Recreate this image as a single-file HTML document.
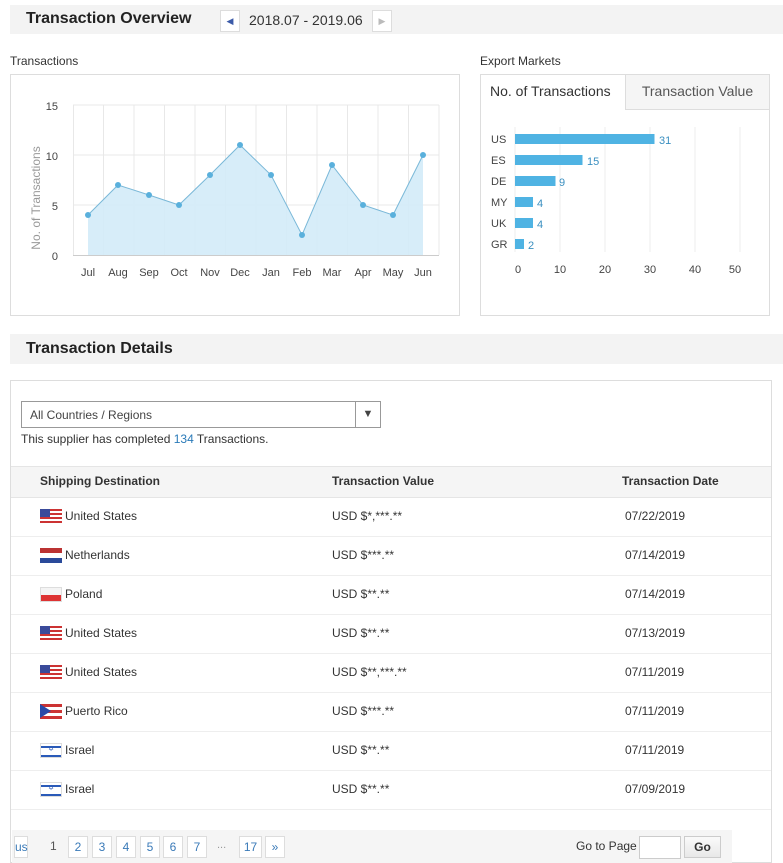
<!DOCTYPE html>
<html><head><meta charset="utf-8"><style>
*{box-sizing:border-box;margin:0;padding:0}
body{width:783px;height:863px;background:#fff;font-family:"Liberation Sans",Arial,sans-serif;color:#333;position:relative;overflow:hidden}
.abs{position:absolute}
.hdr{background:#f3f3f3;font-weight:bold;font-size:16px;color:#222}
.row{position:absolute;left:11px;width:760px;height:39px;border-bottom:1px solid #eee;font-size:12px;color:#333}
.row span{position:absolute;top:11px}
.pg{position:absolute;top:836px;height:22px;border:1px solid #ddd;background:#fff;font-size:12px;color:#3a7ab8;text-align:center;line-height:20px;width:20px}
</style></head><body>
<div class="abs hdr" style="left:10px;top:5px;width:773px;height:29px"><span class="abs" style="left:16px;top:5px">Transaction Overview</span></div>
<div class="abs" style="left:220px;top:10px;width:20px;height:22px;border:1px solid #ddd;background:#fff;color:#3b5aa8;font-size:9px;text-align:center;line-height:20px">◀</div>
<div class="abs" style="left:249px;top:12px;font-size:14px;color:#333">2018.07 - 2019.06</div>
<div class="abs" style="left:372px;top:10px;width:20px;height:22px;border:1px solid #ddd;background:#fff;color:#bbb;font-size:9px;text-align:center;line-height:20px">▶</div>
<div class="abs" style="left:10px;top:54px;font-size:12px;color:#333">Transactions</div>
<div class="abs" style="left:10px;top:74px;width:450px;height:242px;border:1px solid #ddd"></div>
<svg class="abs" style="left:0;top:0" width="470" height="320">
<g stroke="#e8e8e8" stroke-width="1">
<line x1="73" y1="105" x2="439" y2="105"/><line x1="73" y1="155" x2="439" y2="155"/><line x1="73" y1="205" x2="439" y2="205"/>
<line x1="73.5" y1="105" x2="73.5" y2="255"/><line x1="103.5" y1="105" x2="103.5" y2="255"/><line x1="134" y1="105" x2="134" y2="255"/><line x1="164.5" y1="105" x2="164.5" y2="255"/><line x1="195" y1="105" x2="195" y2="255"/><line x1="225.5" y1="105" x2="225.5" y2="255"/><line x1="256" y1="105" x2="256" y2="255"/><line x1="286.5" y1="105" x2="286.5" y2="255"/><line x1="317" y1="105" x2="317" y2="255"/><line x1="347.5" y1="105" x2="347.5" y2="255"/><line x1="378" y1="105" x2="378" y2="255"/><line x1="408.5" y1="105" x2="408.5" y2="255"/><line x1="439" y1="105" x2="439" y2="255"/>
</g>
<line x1="73" y1="255.5" x2="439" y2="255.5" stroke="#ccc"/>
<polygon points="88,255 88,215 118,185 149,195 179,205 210,175 240,145 271,175 302,235 332,165 363,205 393,215 423,155 423,255" fill="#d3ebf8" opacity="0.9"/>
<polyline points="88,215 118,185 149,195 179,205 210,175 240,145 271,175 302,235 332,165 363,205 393,215 423,155" fill="none" stroke="#7ab8d8" stroke-width="1"/>
<g fill="#5ab0dc"><circle cx="88" cy="215" r="3"/><circle cx="118" cy="185" r="3"/><circle cx="149" cy="195" r="3"/><circle cx="179" cy="205" r="3"/><circle cx="210" cy="175" r="3"/><circle cx="240" cy="145" r="3"/><circle cx="271" cy="175" r="3"/><circle cx="302" cy="235" r="3"/><circle cx="332" cy="165" r="3"/><circle cx="363" cy="205" r="3"/><circle cx="393" cy="215" r="3"/><circle cx="423" cy="155" r="3"/></g>
<g font-size="11" fill="#444" text-anchor="end" font-family="Liberation Sans"><text x="58" y="110">15</text><text x="58" y="160">10</text><text x="58" y="210">5</text><text x="58" y="260">0</text></g>
<text transform="translate(40,198) rotate(-90)" text-anchor="middle" font-size="12" fill="#999" font-family="Liberation Sans">No. of Transactions</text>
<g font-size="11" fill="#444" text-anchor="middle" font-family="Liberation Sans"><text x="88" y="276">Jul</text><text x="118" y="276">Aug</text><text x="149" y="276">Sep</text><text x="179" y="276">Oct</text><text x="210" y="276">Nov</text><text x="240" y="276">Dec</text><text x="271" y="276">Jan</text><text x="302" y="276">Feb</text><text x="332" y="276">Mar</text><text x="363" y="276">Apr</text><text x="393" y="276">May</text><text x="423" y="276">Jun</text></g>
</svg>
<div class="abs" style="left:480px;top:54px;font-size:12px">Export Markets</div>
<div class="abs" style="left:480px;top:74px;width:290px;height:242px;border:1px solid #ddd"></div>
<div class="abs" style="left:625px;top:75px;width:144px;height:35px;background:#f5f5f5;border-left:1px solid #ddd;border-bottom:1px solid #ddd;font-size:14px;color:#555;text-align:center;line-height:32px">Transaction Value</div>
<div class="abs" style="left:490px;top:83px;font-size:14px;color:#333">No. of Transactions</div>
<svg class="abs" style="left:470px;top:110px" width="313" height="180">
<g stroke="#eee"><line x1="45" y1="17" x2="45" y2="142"/><line x1="90" y1="17" x2="90" y2="142"/><line x1="135" y1="17" x2="135" y2="142"/><line x1="180" y1="17" x2="180" y2="142"/><line x1="225" y1="17" x2="225" y2="142"/><line x1="270" y1="17" x2="270" y2="142"/></g>
<g fill="#4fb3e3"><rect x="45" y="24" width="139.5" height="10"/><rect x="45" y="45" width="67.5" height="10"/><rect x="45" y="66" width="40.5" height="10"/><rect x="45" y="87" width="18" height="10"/><rect x="45" y="108" width="18" height="10"/><rect x="45" y="129" width="9" height="10"/></g>
<g font-size="11" fill="#444" font-family="Liberation Sans"><text x="21" y="33">US</text><text x="21" y="54">ES</text><text x="21" y="75">DE</text><text x="21" y="96">MY</text><text x="21" y="117">UK</text><text x="21" y="138">GR</text></g>
<g font-size="11" fill="#3a8fc0" font-family="Liberation Sans"><text x="189" y="34">31</text><text x="117" y="55">15</text><text x="89" y="76">9</text><text x="67" y="97">4</text><text x="67" y="118">4</text><text x="58" y="139">2</text></g>
<g font-size="11" fill="#444" text-anchor="middle" font-family="Liberation Sans"><text x="48" y="163">0</text><text x="90" y="163">10</text><text x="135" y="163">20</text><text x="180" y="163">30</text><text x="225" y="163">40</text><text x="265" y="163">50</text></g>
</svg>
<div class="abs hdr" style="left:10px;top:334px;width:773px;height:30px"><span class="abs" style="left:16px;top:6px">Transaction Details</span></div>
<div class="abs" style="left:10px;top:380px;width:762px;height:483px;border:1px solid #ddd"></div>
<div class="abs" style="left:21px;top:401px;width:360px;height:27px;border:1px solid #999;font-size:12px;color:#444;padding:6px 8px">All Countries / Regions<div class="abs" style="right:0;top:0;width:25px;height:25px;border-left:1px solid #999;text-align:center;line-height:24px;font-size:11px">▼</div></div>
<div class="abs" style="left:21px;top:432px;font-size:12px">This supplier has completed <span style="color:#2a7ab8">134</span> Transactions.</div>
<div class="abs" style="left:11px;top:466px;width:760px;height:32px;background:#f5f5f5;border-top:1px solid #e5e5e5;border-bottom:1px solid #e5e5e5;font-size:12px;font-weight:bold;color:#333"><span class="abs" style="left:29px;top:7px">Shipping Destination</span><span class="abs" style="left:321px;top:7px">Transaction Value</span><span class="abs" style="left:611px;top:7px">Transaction Date</span></div>
<div class="row" style="top:498px"><span style="left:29px;top:11px;width:22px;height:15px;background:repeating-linear-gradient(#c33 0 2px,#fff 2px 4px)"><i style="position:absolute;left:0;top:0;width:10px;height:8px;background:#3a4a9a"></i></span><span style="left:54px">United States</span><span style="left:321px">USD $*,***.**</span><span style="left:614px">07/22/2019</span></div>
<div class="row" style="top:537px"><span style="left:29px;top:11px;width:22px;height:15px;background:linear-gradient(#b33 0 5px,#fff 5px 10px,#2a4a9a 10px)"></span><span style="left:54px">Netherlands</span><span style="left:321px">USD $***.**</span><span style="left:614px">07/14/2019</span></div>
<div class="row" style="top:576px"><span style="left:29px;top:11px;width:22px;height:15px;background:linear-gradient(#f4f4f4 0 7px,#d33 7px);border:1px solid #ddd"></span><span style="left:54px">Poland</span><span style="left:321px">USD $**.**</span><span style="left:614px">07/14/2019</span></div>
<div class="row" style="top:615px"><span style="left:29px;top:11px;width:22px;height:15px;background:repeating-linear-gradient(#c33 0 2px,#fff 2px 4px)"><i style="position:absolute;left:0;top:0;width:10px;height:8px;background:#3a4a9a"></i></span><span style="left:54px">United States</span><span style="left:321px">USD $**.**</span><span style="left:614px">07/13/2019</span></div>
<div class="row" style="top:654px"><span style="left:29px;top:11px;width:22px;height:15px;background:repeating-linear-gradient(#c33 0 2px,#fff 2px 4px)"><i style="position:absolute;left:0;top:0;width:10px;height:8px;background:#3a4a9a"></i></span><span style="left:54px">United States</span><span style="left:321px">USD $**,***.**</span><span style="left:614px">07/11/2019</span></div>
<div class="row" style="top:693px"><span style="left:29px;top:11px;width:22px;height:15px;background:repeating-linear-gradient(#c33 0 3px,#fff 3px 6px)"><i style="position:absolute;left:0;top:0;width:0;height:0;border-top:7.5px solid transparent;border-bottom:7.5px solid transparent;border-left:11px solid #2a4aa8"></i></span><span style="left:54px">Puerto Rico</span><span style="left:321px">USD $***.**</span><span style="left:614px">07/11/2019</span></div>
<div class="row" style="top:732px"><span style="left:29px;top:11px;width:22px;height:15px;background:linear-gradient(#fff 0 2px,#2a5ab8 2px 4px,#fff 4px 11px,#2a5ab8 11px 13px,#fff 13px);border:1px solid #ddd;font-size:7px;color:#2a5ab8;text-align:center;line-height:12px">✡</span><span style="left:54px">Israel</span><span style="left:321px">USD $**.**</span><span style="left:614px">07/11/2019</span></div>
<div class="row" style="top:771px"><span style="left:29px;top:11px;width:22px;height:15px;background:linear-gradient(#fff 0 2px,#2a5ab8 2px 4px,#fff 4px 11px,#2a5ab8 11px 13px,#fff 13px);border:1px solid #ddd;font-size:7px;color:#2a5ab8;text-align:center;line-height:12px">✡</span><span style="left:54px">Israel</span><span style="left:321px">USD $**.**</span><span style="left:614px">07/09/2019</span></div>
<div class="abs" style="left:12px;top:830px;width:720px;height:33px;background:#f5f5f5"></div>
<div class="pg" style="left:14px;width:14px">us</div>
<div class="abs" style="left:50px;top:839px;font-size:12px;color:#555">1</div>
<div class="pg" style="left:68px">2</div><div class="pg" style="left:92px">3</div><div class="pg" style="left:116px">4</div><div class="pg" style="left:140px">5</div><div class="pg" style="left:163px">6</div><div class="pg" style="left:187px">7</div>
<div class="abs" style="left:217px;top:839px;font-size:11px;color:#999">...</div>
<div class="pg" style="left:239px;width:23px">17</div><div class="pg" style="left:265px;width:20px">»</div>
<div class="abs" style="left:576px;top:839px;font-size:12px;color:#333">Go to Page</div>
<div class="abs" style="left:639px;top:836px;width:42px;height:23px;border:1px solid #ccc;background:#fff"></div>
<div class="abs" style="left:684px;top:836px;width:37px;height:22px;border:1px solid #ccc;background:linear-gradient(#fafafa,#e8e8e8);font-size:12px;font-weight:bold;color:#333;text-align:center;line-height:20px">Go</div>
</body></html>
